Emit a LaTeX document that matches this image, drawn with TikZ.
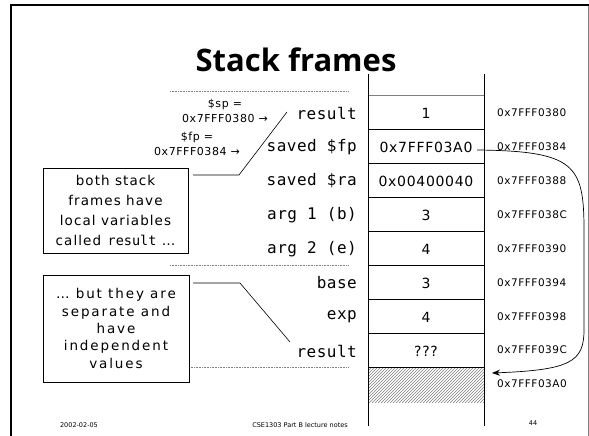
\documentclass[tikz,border=0pt]{standalone}
\usepackage{fontspec}
\setmainfont{DejaVu Sans}
\setmonofont{DejaVu Sans Mono}
\newfontfamily\titlefont{Open Sans}
\newfontfamily\sansls[LetterSpace=5]{DejaVu Sans}
\newfontfamily\notels[LetterSpace=8]{DejaVu Sans}
\newfontfamily\notewide[LetterSpace=14]{DejaVu Sans}
\newfontfamily\monols[LetterSpace=3]{DejaVu Sans Mono}
\usetikzlibrary{patterns,arrows.meta}

\newcommand\fonttitle{\titlefont\fontsize{31}{36}\selectfont\bfseries}
\newcommand\fontlab{\monols\fontsize{16}{19}\selectfont}
\newcommand\fontcell{\sansls\fontsize{14}{17}\selectfont}
\newcommand\fontaddr{\sansls\fontsize{10.5}{15}\selectfont}
\newcommand\fontptr{\sansls\fontsize{11}{15}\selectfont}
\newcommand\fontnoteA{\notels\fontsize{13.5}{20}\selectfont}
\newcommand\fontnoteB{\notewide\fontsize{13.5}{17.3}\selectfont}
\newcommand\fontfoot{\fontsize{6.5}{8}\selectfont}

\tikzset{
  cell/.style={minimum width=116pt, minimum height=34pt, inner sep=0pt, font=\fontcell},
  lab/.style={anchor=east, inner sep=0pt, font=\fontlab},
  addr/.style={anchor=west, inner sep=0pt, font=\fontaddr},
  ptrlbl/.style={align=center, inner sep=0pt, font=\fontptr},
  notebox/.style={draw, line width=0.6pt, fill=white, align=center, inner sep=0pt},
  callout/.style={line width=0.6pt},
  framemark/.style={gray, line width=0.5pt, dash pattern=on 0.8pt off 0.8pt},
  rowline/.style={line width=0.7pt},
  foot/.style={inner sep=0pt, font=\fontfoot},
}

\begin{document}
\begin{tikzpicture}[x=1pt, y=-1pt]
\useasboundingbox (0,0) rectangle (589,436);

% slide border
\draw[line width=2.4pt] (10.7,436) -- (10.7,5) -- (589,5);
\draw[gray, line width=0.8pt] (588,6) -- (588,436);

% title
\node[anchor=base, inner sep=0pt, font=\fonttitle] (title) at (296,71) {Stack frames};

% frame boundary marks
\draw[framemark] (170,91) -- (349,91);
\draw[framemark] (170,265) -- (349,265);
\draw[framemark] (170,367) -- (349,367);

% stack cells
\node[cell] (c0) at (426,113) {1};
\node[cell] (c1) at (426,147) {0x7FFF03A0};
\node[cell] (c2) at (426,181) {0x00400040};
\node[cell] (c3) at (426,215) {3};
\node[cell] (c4) at (426,249) {4};
\node[cell] (c5) at (426,283) {3};
\node[cell] (c6) at (426,317) {4};
\node[cell] (c7) at (426,351) {???};
\node[cell, pattern=north east lines, pattern color=gray] (c8) at (426,385) {};

\draw[gray, line width=0.7pt] (c0.north west) -- (c0.north east);
\foreach \c in {c1,c2,c3,c4,c5,c6,c7,c8}
  \draw[rowline] (\c.north west) -- (\c.north east);
\draw[line width=0.7pt] (368,74) -- (368,426);
\draw[line width=0.7pt] (484,74) -- (484,426);

% variable names
\node[lab] (l0) at (357,113) {result};
\node[lab] (l1) at (357,147) {saved \$fp};
\node[lab] (l2) at (357,181) {saved \$ra};
\node[lab] (l3) at (357,215) {arg 1 (b)};
\node[lab] (l4) at (357,249) {arg 2 (e)};
\node[lab] (l5) at (357,283) {base};
\node[lab] (l6) at (357,317) {exp};
\node[lab] (l7) at (357,351) {result};

% addresses
\node[addr] (a0) at (497,113) {0x7FFF0380};
\node[addr] (a1) at (497,147) {0x7FFF0384};
\node[addr] (a2) at (497,181) {0x7FFF0388};
\node[addr] (a3) at (497,215) {0x7FFF038C};
\node[addr] (a4) at (497,249) {0x7FFF0390};
\node[addr] (a5) at (497,283) {0x7FFF0394};
\node[addr] (a6) at (497,317) {0x7FFF0398};
\node[addr] (a7) at (497,350) {0x7FFF039C};
\node[addr] (a8) at (497,384) {0x7FFF03A0};

% register values
\node[ptrlbl] (sp) at (225,110.5) {\$sp =\\0x7FFF0380 →};
\node[ptrlbl] (fp) at (197,144) {\$fp =\\0x7FFF0384 →};

% saved frame pointer link
\coordinate (pstart) at (477,150);
\coordinate (pend) at (492,373);
\draw[line width=0.7pt, -{Stealth[length=8pt,width=6pt]}]
  (pstart) .. controls (575,151) and (584,165) .. (584,230)
  -- (584,330) .. controls (584,362) and (570,370) .. (pend);

% notes
\node[notebox, minimum width=145pt, minimum height=85pt, font=\fontnoteA] (n1) at (115.5,210.5)
  {both stack\\frames have\\local variables\\called \texttt{result} …};
\node[notebox, minimum width=146pt, minimum height=107pt, font=\fontnoteB] (n2) at (116,328.5)
  {… but they are\\separate and\\have\\independent\\values};

\coordinate (k1a) at (193,175);
\coordinate (k1b) at (239,175);
\coordinate (k1c) at (287,112);
\draw[callout] (k1a) -- (k1b) -- (k1c);
\coordinate (k2a) at (193,283);
\coordinate (k2b) at (240,283);
\coordinate (k2c) at (290,342);
\draw[callout] (k2a) -- (k2b) -- (k2c);

% footer
\node[foot] (date) at (79,425) {2002-02-05};
\node[foot] (course) at (300,425) {CSE1303 Part B lecture notes};
\node[foot] (page) at (533,423) {44};
\end{tikzpicture}
\end{document}
